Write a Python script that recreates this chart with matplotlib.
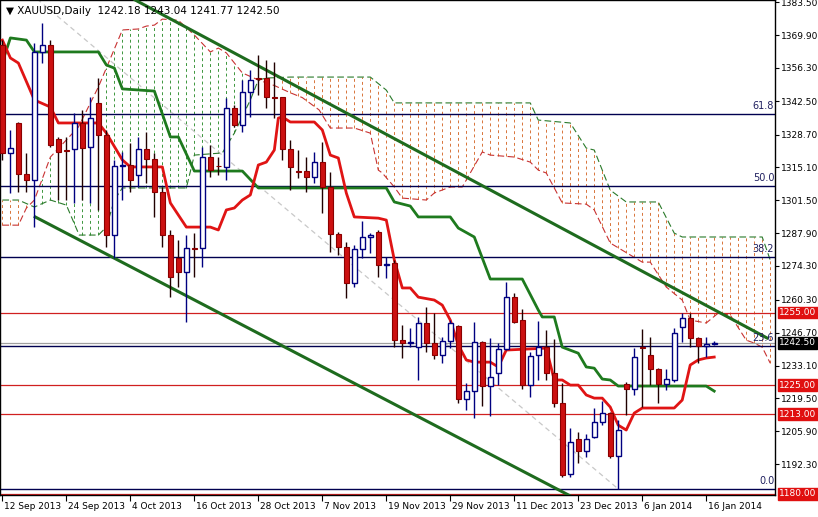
import numpy as np
import matplotlib
matplotlib.use("Agg")
import matplotlib.pyplot as plt

# ---------------- data ----------------
opens = [1365.8,1321.1,1333.5,1312.4,1309.9,1362.9,1365.8,1326.9,1322.3,1322.7,
         1333.5,1323.5,1341.8,1328.5,1287.1,1315.7,1316.1,1311.9,1322.7,1318.6,
         1304.9,1287.1,1277.6,1271.8,1281.7,1281.7,1319.4,1315.7,1315.3,1339.7,
         1332.7,1346.3,1352.1,1352.1,1344.2,1344.2,1322.7,1313.6,1313.6,1311.1,
         1317.3,1307.0,1287.5,1282.1,1267.2,1281.3,1286.3,1288.4,1274.7,1275.5,
         1243.6,1242.4,1240.7,1250.7,1242.4,1237.4,1243.2,1249.4,1219.2,1222.5,
         1242.8,1224.6,1230.0,1239.9,1261.4,1251.9,1225.0,1237.4,1240.7,1230.0,
         1217.6,1188.2,1202.7,1197.7,1203.5,1209.7,1213.4,1195.6,1225.4,1223.4,
         1240.7,1237.4,1231.6,1225.4,1227.1,1249.0,1252.7,1244.5,1241.2,1242.18]
highs = [1367.8,1330.6,1333.9,1321.1,1366.6,1374.9,1367.8,1327.7,1327.7,1337.6,
         1338.9,1344.2,1352.1,1330.6,1318.2,1321.5,1325.2,1327.7,1329.8,1321.1,
         1307.0,1289.2,1285.0,1287.1,1287.9,1323.5,1324.4,1319.4,1343.8,1340.9,
         1351.3,1355.4,1361.6,1359.6,1358.7,1344.2,1326.4,1322.3,1319.4,1321.5,
         1325.6,1313.2,1288.4,1284.2,1283.0,1292.9,1287.9,1289.2,1278.0,1276.8,
         1249.9,1248.6,1253.2,1257.3,1254.8,1244.9,1251.9,1249.9,1225.8,1251.1,
         1243.2,1244.5,1242.4,1267.6,1263.1,1256.5,1238.7,1251.5,1247.8,1244.1,
         1225.8,1207.2,1205.6,1204.7,1215.5,1218.4,1213.8,1210.5,1226.3,1240.3,
         1248.2,1244.9,1232.0,1231.6,1248.6,1254.8,1254.8,1244.9,1244.9,1243.04]
lows = [1318.2,1304.5,1304.9,1304.9,1290.4,1358.3,1323.5,1301.6,1301.6,1300.4,
        1301.6,1300.4,1297.5,1282.1,1277.6,1301.6,1304.9,1307.0,1308.6,1294.6,
        1282.1,1261.4,1265.6,1251.1,1269.7,1273.9,1311.1,1311.9,1309.9,1331.8,
        1329.8,1336.0,1345.1,1339.7,1335.5,1318.2,1305.7,1310.7,1304.9,1308.6,
        1296.2,1280.1,1278.8,1261.0,1265.6,1277.6,1279.7,1269.7,1269.3,1240.7,
        1236.2,1240.7,1227.1,1238.7,1235.8,1234.1,1240.3,1217.6,1214.7,1211.3,
        1216.3,1212.2,1225.0,1239.5,1250.7,1223.4,1220.0,1227.1,1227.1,1215.9,
        1186.9,1186.9,1192.7,1195.2,1203.1,1208.4,1194.8,1182.0,1212.6,1220.9,
        1215.9,1225.0,1217.6,1222.9,1226.3,1242.8,1240.7,1234.1,1236.6,1241.77]
closes = [1321.1,1323.1,1312.4,1309.9,1362.9,1365.8,1324.4,1321.5,1322.0,1333.5,
          1323.1,1335.5,1328.5,1287.1,1315.7,1315.9,1309.9,1322.7,1318.6,1304.9,
          1287.1,1269.7,1271.8,1281.7,1281.5,1319.4,1314.0,1315.5,1339.7,1332.7,
          1346.3,1351.3,1351.9,1344.2,1343.8,1322.7,1315.3,1313.4,1311.1,1317.3,
          1307.0,1287.5,1282.1,1267.2,1281.3,1286.3,1287.1,1274.7,1275.0,1243.6,
          1242.4,1242.6,1250.7,1242.4,1237.4,1243.2,1250.7,1219.2,1222.5,1242.8,
          1224.6,1228.3,1239.9,1261.4,1251.1,1225.0,1237.0,1240.7,1230.0,1217.6,
          1187.7,1201.4,1197.7,1202.7,1209.7,1213.4,1195.6,1206.4,1223.4,1236.6,
          1240.5,1231.6,1225.4,1227.5,1246.5,1252.7,1244.5,1241.2,1242.0,1242.50]

tenkan_bar = [0,1,2,4,6,7,12,13,15,16,20,21,23,26,27,28,29,30,31,32,33,34,34.5,35,36,39,40,41,42,43,44,47,48,49,50,51,52,54,55,56,57,58,59,61,62,63,68,69,70,71,72,73,74,75,76,77,78,79,80,84,85,86,87,88,89]
tenkan_val = [1367.8,1360.4,1358.3,1343.0,1340.1,1333.5,1333.5,1329.3,1318.2,1315.3,1315.3,1300.4,1290.4,1290.4,1289.2,1297.5,1298.3,1301.6,1303.7,1316.1,1317.3,1322.3,1335.5,1336.0,1333.9,1333.9,1330.6,1320.2,1319.0,1304.5,1294.6,1294.1,1293.3,1276.8,1265.2,1265.2,1261.4,1260.2,1258.1,1251.9,1241.6,1235.4,1234.5,1234.5,1232.5,1239.5,1240.3,1227.1,1227.1,1225.0,1225.0,1220.9,1219.6,1219.6,1215.9,1208.4,1206.4,1213.4,1215.5,1215.5,1218.8,1233.3,1235.4,1236.2,1236.6]

kijun_bar = [0,1,3,4,12,13,14,15,19,21,22,24,30,32,48,49,51,52,56,57,59,61,65,67,67.5,69,70,72,73,74,75,76,77,88,89]
kijun_val = [1358.7,1368.7,1367.8,1362.9,1362.9,1357.5,1356.2,1347.6,1346.7,1327.7,1327.7,1313.6,1313.6,1306.6,1306.6,1300.8,1299.1,1294.6,1294.6,1290.0,1286.3,1268.9,1268.9,1256.1,1253.2,1253.2,1240.7,1238.2,1232.5,1232.0,1227.5,1227.1,1224.6,1224.6,1222.5]

spanr_bar = [0,2,3,4,6,9.5,12,15,17,18,19,20,22,24,26,27,28,30,32,34,36,37.5,39.6,41,44,46,47,47.5,49,50,53,54,56,57.5,60,61,64,66,67,68,70,73,74,76,80,81,83,85,86,88,89.5,91,93,94,95,96]
spanr_val = [1291.2,1291.2,1298.3,1301.6,1319.4,1331.8,1348.4,1372.0,1372.4,1373.6,1374.0,1376.5,1376.0,1369.9,1362.9,1364.5,1362.5,1354.2,1351.3,1349.0,1346.0,1344.0,1338.9,1331.4,1331.4,1329.3,1314.0,1312.8,1307.0,1302.4,1301.6,1304.5,1307.0,1307.0,1321.5,1320.2,1319.4,1317.3,1314.0,1312.8,1300.4,1299.9,1297.5,1283.8,1275.9,1275.9,1265.6,1260.2,1251.9,1250.7,1254.8,1254.0,1243.6,1242.4,1240.7,1234.1]

spang_bar = [0,2,4,6,8,9.6,12,13,14,15,23,24,27.5,29,31,32,33,36,46,48,49,66,67,71,73,74,76,78,82,84,85,95,96]
spang_val = [1301.6,1301.6,1298.7,1301.6,1299.5,1287.1,1287.1,1290.4,1301.6,1306.6,1306.6,1320.2,1321.1,1329.3,1343.0,1351.3,1352.1,1352.5,1352.5,1347.1,1341.8,1341.8,1334.7,1333.5,1323.1,1322.3,1305.7,1300.8,1300.8,1287.9,1286.3,1286.3,1276.8]

fib_low, fib_high = 1182.0, 1433.2
fib_levels = [0.0, 23.6, 38.2, 50.0, 61.8]
fib_labels = ["0.0", "23.6", "38.2", "50.0", "61.8"]
support_levels = [1255.0, 1225.0, 1213.0, 1180.0]
last_price = 1242.50
upper_trend = [(16.6, 1384.4), (95.6, 1244.5)]
lower_trend = [(4.1, 1294.6), (71.3, 1178.6)]
fib_diag = [(-13, 1433.2), (77, 1182.0)]

date_pos = [0, 8, 16, 24, 32, 40, 48, 56, 64, 72, 80, 88]
date_labels = ["12 Sep 2013", "24 Sep 2013", "4 Oct 2013", "16 Oct 2013", "28 Oct 2013",
               "7 Nov 2013", "19 Nov 2013", "29 Nov 2013", "11 Dec 2013", "23 Dec 2013",
               "6 Jan 2014", "16 Jan 2014"]
yticks = [1383.50, 1369.90, 1356.30, 1342.50, 1328.70, 1315.10, 1301.50, 1287.90,
          1274.30, 1260.30, 1246.70, 1233.10, 1219.50, 1205.90, 1192.30]

# ---------------- figure ----------------
W, H = 818, 517
fig = plt.figure(figsize=(W/100, H/100), dpi=100)
ax = fig.add_axes([0.0, (517-495)/517, 775/818, 495/517])
ax.set_xlim(-0.3, 96.6)
ax.set_ylim(1179.5, 1384.4)
FS = 6.5

# cloud hatch
bars_c = np.arange(0, 97)
r = np.interp(bars_c, spanr_bar, spanr_val)
g = np.interp(bars_c, spang_bar, spang_val)
for b, rv, gv in zip(bars_c, r, g):
    col = '#3c963c' if rv > gv else '#d8743a'
    ax.vlines(b, min(rv, gv), max(rv, gv), colors=col, linewidth=0.7,
              linestyles=(0, (3, 3)), zorder=1)
ax.plot(spanr_bar, spanr_val, color='#c83232', lw=0.8, ls=(0, (6, 3)), zorder=2)
ax.plot(spang_bar, spang_val, color='#2a7a2a', lw=0.8, ls=(0, (6, 3)), zorder=2)

# fib diagonal
ax.plot([p[0] for p in fib_diag], [p[1] for p in fib_diag], color='#c8c8c8',
        lw=0.9, ls=(0, (4, 3)), zorder=1)

# horizontal levels
for lv, lab in zip(fib_levels, fib_labels):
    pr = fib_low + (fib_high - fib_low) * lv / 100
    ax.axhline(pr, color='#000050', lw=1.0, zorder=2)
    ax.text(96.5, pr + 1.2, lab, ha='right', va='bottom', fontsize=7, color='#202060', zorder=6)
for lv in support_levels:
    ax.axhline(lv, color='#d02020', lw=0.9, zorder=2)
ax.axhline(last_price, color='#a0a0a0', lw=0.9, zorder=2)

# trendlines
for tl in (upper_trend, lower_trend):
    ax.plot([tl[0][0], tl[1][0]], [tl[0][1], tl[1][1]], color='#1e6b1e', lw=2.2, zorder=3)

# indicator lines
ax.plot(kijun_bar, kijun_val, color='#1e7a1e', lw=2.0, zorder=4)
ax.plot(tenkan_bar, tenkan_val, color='#e01414', lw=2.0, zorder=4)

# candles
o = np.array(opens); h = np.array(highs); l = np.array(lows); c = np.array(closes)
x = np.arange(len(o))
up = c >= o
ax.vlines(x, l, h, colors=np.where(up, '#000080', '#200000'), linewidth=1.0, zorder=5)
bottom = np.minimum(o, c)
height = np.maximum(np.abs(c - o), 0.35)
ax.bar(x[up], height[up], bottom=bottom[up], width=0.62, facecolor='white',
       edgecolor='#000080', linewidth=1.0, zorder=6)
ax.bar(x[~up], height[~up], bottom=bottom[~up], width=0.62, facecolor='#cc1010',
       edgecolor='#8b0000', linewidth=0.8, zorder=6)

# axes styling
for s in ax.spines.values():
    s.set_color('black'); s.set_linewidth(1.0)
ax.yaxis.tick_right()
ax.set_yticks(yticks)
ax.set_yticklabels([f"{v:.2f}" for v in yticks], fontsize=FS)
ax.tick_params(axis='y', length=3, pad=1, direction='out')
ax.set_xticks(date_pos)
ax.set_xticklabels([])
ax.tick_params(axis='x', length=4, direction='out')
for p, lab in zip(date_pos, date_labels):
    ax.text(p + 0.2, 1179.5 - 3.0, lab, ha='left', va='top', fontsize=FS, color='black', clip_on=False)

# price boxes
for lv in support_levels:
    ax.text(97.1, lv, f"{lv:.2f}", ha='left', va='center', fontsize=FS, color='white', zorder=8,
            clip_on=False, bbox=dict(boxstyle='square,pad=0.15', fc='#e01010', ec='#e01010'))
ax.text(97.1, last_price, f"{last_price:.2f}", ha='left', va='center', fontsize=FS, color='white',
        zorder=8, clip_on=False, bbox=dict(boxstyle='square,pad=0.15', fc='black', ec='black'))

# header
ax.text(0.5, 1380.0, "\u25bc XAUUSD,Daily  1242.18 1243.04 1241.77 1242.50", ha='left', va='center',
        fontsize=7.5, color='black', zorder=9)

fig.savefig("out.png", dpi=100)
